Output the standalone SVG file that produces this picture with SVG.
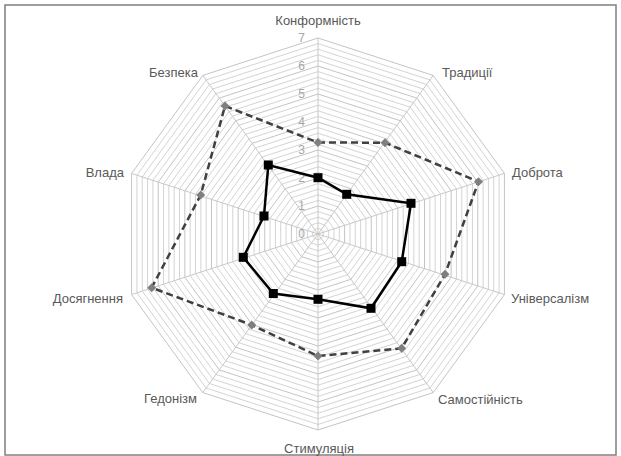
<svg xmlns="http://www.w3.org/2000/svg" xmlns:xlink="http://www.w3.org/1999/xlink" width="621" height="456" viewBox="0 0 621 456">
<style>
.lbl{font-family:"Liberation Sans",Arial,sans-serif;font-size:13px;fill:#595959}
.tick{font-family:"Liberation Sans",Arial,sans-serif;font-size:12px;fill:#a6a6a6;text-anchor:end}
.ring{stroke:#d4d4d4}
.major{stroke:#c4c4c4}
.spoke{stroke:#c8c8c8;stroke-width:1}
.dash{fill:none;stroke:#404040;stroke-width:2.5;stroke-dasharray:7 4}
.solid{fill:none;stroke:#000;stroke-width:2.5}
.dia{fill:#7f7f7f}
.sq{fill:#000}
</style>
<defs>
<polygon id="dec" fill="none" stroke-width="1" vector-effect="non-scaling-stroke" points="0,-1 0.587785,-0.809017 0.951057,-0.309017 0.951057,0.309017 0.587785,0.809017 0,1 -0.587785,0.809017 -0.951057,0.309017 -0.951057,-0.309017 -0.587785,-0.809017"/>
<rect id="sqm" x="-4.5" y="-4.5" width="9" height="9"/>
<polygon id="dim" points="0,-4.5 4.5,0 0,4.5 -4.5,0"/>
</defs>
<rect x="5" y="5" width="611" height="450" fill="#fff" stroke="#7f7f7f" stroke-width="1.5"/>
<g id="grid" transform="translate(318 234)">
<use xlink:href="#dec" class="ring" transform="scale(5.6)"/>
<use xlink:href="#dec" class="ring" transform="scale(11.2)"/>
<use xlink:href="#dec" class="ring" transform="scale(16.8)"/>
<use xlink:href="#dec" class="ring" transform="scale(22.4)"/>
<use xlink:href="#dec" class="major" transform="scale(28)"/>
<use xlink:href="#dec" class="ring" transform="scale(33.6)"/>
<use xlink:href="#dec" class="ring" transform="scale(39.2)"/>
<use xlink:href="#dec" class="ring" transform="scale(44.8)"/>
<use xlink:href="#dec" class="ring" transform="scale(50.4)"/>
<use xlink:href="#dec" class="major" transform="scale(56)"/>
<use xlink:href="#dec" class="ring" transform="scale(61.6)"/>
<use xlink:href="#dec" class="ring" transform="scale(67.2)"/>
<use xlink:href="#dec" class="ring" transform="scale(72.8)"/>
<use xlink:href="#dec" class="ring" transform="scale(78.4)"/>
<use xlink:href="#dec" class="major" transform="scale(84)"/>
<use xlink:href="#dec" class="ring" transform="scale(89.6)"/>
<use xlink:href="#dec" class="ring" transform="scale(95.2)"/>
<use xlink:href="#dec" class="ring" transform="scale(100.8)"/>
<use xlink:href="#dec" class="ring" transform="scale(106.4)"/>
<use xlink:href="#dec" class="major" transform="scale(112)"/>
<use xlink:href="#dec" class="ring" transform="scale(117.6)"/>
<use xlink:href="#dec" class="ring" transform="scale(123.2)"/>
<use xlink:href="#dec" class="ring" transform="scale(128.8)"/>
<use xlink:href="#dec" class="ring" transform="scale(134.4)"/>
<use xlink:href="#dec" class="major" transform="scale(140)"/>
<use xlink:href="#dec" class="ring" transform="scale(145.6)"/>
<use xlink:href="#dec" class="ring" transform="scale(151.2)"/>
<use xlink:href="#dec" class="ring" transform="scale(156.8)"/>
<use xlink:href="#dec" class="ring" transform="scale(162.4)"/>
<use xlink:href="#dec" class="major" transform="scale(168)"/>
<use xlink:href="#dec" class="ring" transform="scale(173.6)"/>
<use xlink:href="#dec" class="ring" transform="scale(179.2)"/>
<use xlink:href="#dec" class="ring" transform="scale(184.8)"/>
<use xlink:href="#dec" class="ring" transform="scale(190.4)"/>
<use xlink:href="#dec" class="major" transform="scale(196)"/>
</g>
<g id="spokes" class="spoke">
<line x1="318" y1="234" x2="318" y2="38"/>
<line x1="318" y1="234" x2="433.21" y2="75.43"/>
<line x1="318" y1="234" x2="504.41" y2="173.43"/>
<line x1="318" y1="234" x2="504.41" y2="294.57"/>
<line x1="318" y1="234" x2="433.21" y2="392.57"/>
<line x1="318" y1="234" x2="318" y2="430"/>
<line x1="318" y1="234" x2="202.79" y2="392.57"/>
<line x1="318" y1="234" x2="131.59" y2="294.57"/>
<line x1="318" y1="234" x2="131.59" y2="173.43"/>
<line x1="318" y1="234" x2="202.79" y2="75.43"/>
</g>
<g id="ticks">
<text class="tick" x="305" y="238">0</text>
<text class="tick" x="305" y="210">1</text>
<text class="tick" x="305" y="182">2</text>
<text class="tick" x="305" y="154">3</text>
<text class="tick" x="305" y="126">4</text>
<text class="tick" x="305" y="98">5</text>
<text class="tick" x="305" y="70">6</text>
<text class="tick" x="305" y="42">7</text>
</g>
<g id="labels" class="lbl">
<text x="318" y="25" text-anchor="middle">Конформність</text>
<text x="442" y="77">Традиції</text>
<text x="512" y="177">Доброта</text>
<text x="511" y="303">Універсалізм</text>
<text x="438" y="404">Самостійність</text>
<text x="319" y="453" text-anchor="middle">Стимуляція</text>
<text x="197" y="403" text-anchor="end">Гедонізм</text>
<text x="123" y="303" text-anchor="end">Досягнення</text>
<text x="124" y="177" text-anchor="end">Влада</text>
<text x="198" y="77" text-anchor="end">Безпека</text>
</g>
<g id="connectors">
<polygon class="dash" points="318,142.5 385,142.7 478.5,181.7 445,274.3 401.7,348.3 318,356 251.7,325 151.7,287.7 200.7,195 225,106"/>
<polygon class="solid" points="318,177.7 346.7,194.3 411,203.3 401.7,261.7 371,308.3 318,299.3 273.3,293.5 243.3,257.3 264,216 268.3,165"/>
</g>
<g id="series1-markers" class="dia">
<use xlink:href="#dim" x="318" y="142.5"/>
<use xlink:href="#dim" x="385" y="142.7"/>
<use xlink:href="#dim" x="478.5" y="181.7"/>
<use xlink:href="#dim" x="445" y="274.3"/>
<use xlink:href="#dim" x="401.7" y="348.3"/>
<use xlink:href="#dim" x="318" y="356"/>
<use xlink:href="#dim" x="251.7" y="325"/>
<use xlink:href="#dim" x="151.7" y="287.7"/>
<use xlink:href="#dim" x="200.7" y="195"/>
<use xlink:href="#dim" x="225" y="106"/>
</g>
<g id="series2-markers" class="sq">
<use xlink:href="#sqm" x="318" y="177.7"/>
<use xlink:href="#sqm" x="346.7" y="194.3"/>
<use xlink:href="#sqm" x="411" y="203.3"/>
<use xlink:href="#sqm" x="401.7" y="261.7"/>
<use xlink:href="#sqm" x="371" y="308.3"/>
<use xlink:href="#sqm" x="318" y="299.3"/>
<use xlink:href="#sqm" x="273.3" y="293.5"/>
<use xlink:href="#sqm" x="243.3" y="257.3"/>
<use xlink:href="#sqm" x="264" y="216"/>
<use xlink:href="#sqm" x="268.3" y="165"/>
</g>
</svg>
